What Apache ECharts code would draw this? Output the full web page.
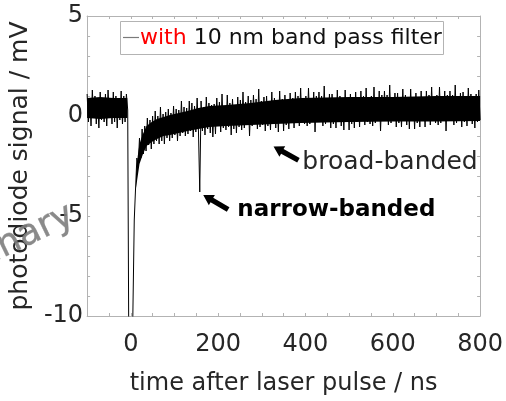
<!DOCTYPE html>
<html>
<head>
<meta charset="utf-8">
<script src="https://cdn.jsdelivr.net/npm/echarts@6/dist/echarts.min.js"></script>
<style>
html,body{margin:0;padding:0;background:#fff;}
#c{width:506px;height:401px;}
</style>
</head>
<body>
<div id="c"></div>
<script>
// ---- data: oscilloscope trace, sampled every 3 ns from -100 ns ----
const startTime = -100;
const sampleStep = 3;
const baseline = [1.1, -0.3, 0.9, -0.5, 1.3, -0.1, 1.0, -0.4, 0.8, -0.6,
  1.2, -0.2, 0.9, -0.3, 1.1, -0.5, 1.3, 0.0, 0.8, -0.4,
  1.2, -0.3, 1.0, -0.6, 0.9, -0.2, 1.25, -0.4, 1.0, -0.3,
  1.1, 0.3];
const laserPulse = [-14, -14, -14, -14];
const recovery = [-5.2, -3.6,
  -2.1, -2.5, -1.1, -2.1, -0.65, -1.9, -0.5, -1.75, -0.1, -1.45,
  -0.2, -1.65, 0.0, -1.4, 0.25, -1.25, 0.0, -1.4, 0.45, -1.25,
  0.1, -1.4, 0.2, -1.1, 0.35, -1.25, 0.15, -1.1, 0.5, -0.95,
  0.35, -1.25, 0.3, -1.0, 0.75, -0.85, 0.45, -1.0, 0.4, -0.9,
  0.75, -0.75, 0.65, -1.05, 0.5, -0.8, 0.9, -0.7];
const narrowSpike = [-3.8];
const tail = [
  0.75, -0.75, 0.45, -0.95, 0.95, -0.65, 0.65, -0.85, 0.55, -1.05,
  0.6, -0.9, 0.9, -0.5, 0.7, -0.8, 1.1, -0.6, 0.5, -0.7,
  1.05, -0.55, 0.65, -0.95, 0.85, -0.65, 0.55, -0.85, 0.95, -0.55,
  0.8, -0.7, 1.2, -0.6, 0.7, -0.4, 1.0, -1.0, 0.8, -0.5,
  1.05, -0.35, 0.85, -0.65, 1.35, -0.55, 0.75, -0.45, 0.95, -0.75,
  1.0, -0.5, 0.7, -0.7, 1.2, -0.4, 0.9, -0.6, 0.8, -0.8,
  1.25, -0.35, 0.85, -0.75, 1.05, -0.45, 0.75, -0.65, 1.15, -0.35,
  0.9, -0.6, 1.2, -0.2, 1.0, -0.5, 1.4, -0.3, 0.8, -0.4,
  1.0, -0.5, 1.4, -0.4, 0.9, -0.2, 1.2, -0.8, 1.0, -0.3,
  1.2, -0.2, 1.0, -0.5, 1.5, -0.4, 0.9, -0.3, 1.1, -0.6,
  1.1, -0.4, 0.8, -0.6, 1.3, -0.3, 1.0, -0.5, 0.9, -0.7,
  1.3, -0.3, 0.9, -0.7, 1.1, -0.4, 0.8, -0.6, 1.2, -0.3,
  0.9, -0.55, 1.25, -0.2, 1.0, -0.45, 1.4, -0.3, 0.85, -0.4,
  1.0, -0.5, 1.45, -0.35, 0.95, -0.15, 1.25, -0.75, 1.05, -0.25,
  1.25, -0.15, 1.05, -0.45, 1.55, -0.35, 0.95, -0.25, 1.15, -0.55,
  1.15, -0.35, 0.85, -0.55, 1.35, -0.25, 1.05, -0.45, 0.95, -0.65,
  1.35, -0.25, 0.95, -0.65, 1.15, -0.35, 0.85, -0.55, 1.25, -0.25,
  0.95, -0.55, 1.25, -0.15, 1.05, -0.45, 1.45, -0.25, 0.85, -0.35,
  1.05, -0.45, 1.45, -0.35, 0.95, -0.15, 1.25, -0.75, 1.05, -0.25,
  1.25, -0.15, 1.05, -0.45, 1.55, -0.35, 0.95, -0.25, 1.15, -0.55,
  1.2, -0.3, 0.9, -0.5, 1.4, -0.2, 1.1, -0.4, 1.0, -0.6,
  1.1, -0.3, 1.3, -0.2];

// dense core of the noise band (lower / upper edge)
const preCoreTime  = [-100, -70, -40, -8];
const preCoreLow   = [-0.1, -0.15, -0.1, -0.1];
const preCoreHigh  = [0.9, 0.95, 0.9, 0.9];
const postCoreTime = [12, 16, 20, 28, 36, 48, 60, 75, 90, 110, 130, 155, 180, 220, 275, 330, 390, 500, 600, 700, 800];
const postCoreLow  = [-3.6, -3.0, -2.4, -1.9, -1.5, -1.3, -1.15, -1.0, -0.95, -0.85, -0.75, -0.65, -0.55, -0.5, -0.45, -0.4, -0.35, -0.3, -0.28, -0.27, -0.25];
const postCoreHigh = [-2.9, -2.0, -1.4, -0.9, -0.5, -0.3, -0.15, -0.05, 0.05, 0.15, 0.25, 0.4, 0.5, 0.55, 0.65, 0.8, 0.9, 0.95, 0.95, 1.0, 1.0];

const xLabels = [0, 200, 400, 600, 800];
const yLabels = [-10, -5, 0, 5];

const signal = baseline.concat(laserPulse, recovery, narrowSpike, tail);
const trace = signal.map((v, i) => [startTime + i * sampleStep, v]);
const coreSegments = [
  {time: preCoreTime, low: preCoreLow, high: preCoreHigh},
  {time: postCoreTime, low: postCoreLow, high: postCoreHigh}
];

// annotation anchors in data coordinates
const broadArrow = {tip: [327, -1.53], tail: [384, -2.21]};
const broadLabel = {at: [393, -2.3], text: 'broad-banded'};
const narrowArrow = {tip: [166, -3.95], tail: [223, -4.68]};
const narrowLabel = {at: [244, -4.68], text: 'narrow-banded'};

const FONT = '"DejaVu Sans", "Noto Sans", sans-serif';
const AX = '#b3b3b3';
const TXT = '#262626';

const chart = echarts.init(document.getElementById('c'), null, {renderer: 'canvas'});

function axisCommon() {
  return {
    type: 'value',
    axisLine: {show: true, onZero: false, lineStyle: {color: AX, width: 1}},
    axisTick: {show: true, inside: true, length: 3, lineStyle: {color: AX}},
    splitLine: {show: false},
  };
}

const option = {
  animation: false,
  backgroundColor: '#fff',
  grid: {left: 85, top: 16, width: 396, height: 310, containLabel: false},
  xAxis: [
    Object.assign(axisCommon(), {
      min: -100, max: 800, interval: 50, position: 'bottom',
      axisLabel: {
        show: true, margin: 17, fontFamily: FONT, fontSize: 24, color: TXT,
        formatter: v => xLabels.indexOf(v) >= 0 ? String(v) : ''
      },
      name: 'time after laser pulse / ns', nameLocation: 'middle', nameGap: 56,
      nameTextStyle: {fontFamily: FONT, fontSize: 24, color: TXT}
    }),
    Object.assign(axisCommon(), {
      min: -100, max: 800, interval: 50, position: 'top',
      axisLabel: {show: false}
    })
  ],
  yAxis: [
    Object.assign(axisCommon(), {
      min: -10, max: 5, interval: 1, position: 'left',
      axisLabel: {
        show: true, margin: 4, fontFamily: FONT, fontSize: 24, color: TXT,
        padding: [0, 0, 10, 0],
        formatter: v => yLabels.indexOf(v) >= 0 ? String(v) : ''
      },
      name: 'photodiode signal / mV', nameLocation: 'middle', nameGap: 49,
      nameTextStyle: {fontFamily: FONT, fontSize: 25, color: TXT}
    }),
    Object.assign(axisCommon(), {
      min: -10, max: 5, interval: 1, position: 'right',
      axisLabel: {show: false}
    })
  ],
  series: [
    {
      type: 'custom',
      coordinateSystem: 'cartesian2d',
      xAxisIndex: 0, yAxisIndex: 0,
      data: coreSegments.map((s, i) => [s.time[0], s.low[0], i]),
      silent: true,
      z: 1,
      renderItem: function (params, api) {
        const seg = coreSegments[params.dataIndex];
        const top = seg.time.map((t, i) => api.coord([t, seg.high[i]]));
        const bottom = seg.time.map((t, i) => api.coord([t, seg.low[i]])).reverse();
        return {type: 'polygon', shape: {points: top.concat(bottom)}, style: {fill: '#000'}};
      }
    },
    {
      type: 'line',
      data: trace,
      showSymbol: false,
      symbol: 'none',
      sampling: null,
      clip: true,
      lineStyle: {color: '#000', width: 1},
      z: 2
    }
  ]
};
chart.setOption(option);

function arrowPolygon(tipD, tailD) {
  const p = chart.convertToPixel({gridIndex: 0}, tipD);
  const q = chart.convertToPixel({gridIndex: 0}, tailD);
  const dx = p[0] - q[0], dy = p[1] - q[1];
  const L = Math.sqrt(dx * dx + dy * dy);
  const ux = dx / L, uy = dy / L, nx = -uy, ny = ux;
  const headLen = 10, headHalf = 6, shaftHalf = 2.6;
  const bx = p[0] - ux * headLen, by = p[1] - uy * headLen;
  return [
    [p[0], p[1]],
    [bx + nx * headHalf, by + ny * headHalf],
    [bx + nx * shaftHalf, by + ny * shaftHalf],
    [q[0] + nx * shaftHalf, q[1] + ny * shaftHalf],
    [q[0] - nx * shaftHalf, q[1] - ny * shaftHalf],
    [bx - nx * shaftHalf, by - ny * shaftHalf],
    [bx - nx * headHalf, by - ny * headHalf]
  ];
}

const bl = chart.convertToPixel({gridIndex: 0}, broadLabel.at);
const nl = chart.convertToPixel({gridIndex: 0}, narrowLabel.at);

chart.setOption({
  graphic: [
    {type: 'rect', shape: {x: 120.5, y: 21.5, width: 323, height: 33},
      style: {fill: '#fff', stroke: '#b3b3b3', lineWidth: 1}, z: 10},
    {type: 'line', shape: {x1: 123, y1: 37.5, x2: 139, y2: 37.5},
      style: {stroke: '#7a7a7a', lineWidth: 1.2}, z: 11},
    {type: 'text', x: 140, y: 38, z: 11,
      style: {text: '{r|with} {k|10 nm band pass filter}', verticalAlign: 'middle', align: 'left',
        font: '22px ' + FONT,
        rich: {r: {fill: '#ff0000', font: '22px ' + FONT}, k: {fill: '#111', font: '22px ' + FONT}}}},
    {type: 'polygon', shape: {points: arrowPolygon(broadArrow.tip, broadArrow.tail)},
      style: {fill: '#000'}, z: 11},
    {type: 'polygon', shape: {points: arrowPolygon(narrowArrow.tip, narrowArrow.tail)},
      style: {fill: '#000'}, z: 11},
    {type: 'text', x: bl[0], y: bl[1], z: 11,
      style: {text: broadLabel.text, font: '25px ' + FONT, fill: TXT, verticalAlign: 'middle', align: 'left'}},
    {type: 'text', x: nl[0], y: nl[1], z: 11,
      style: {text: narrowLabel.text, font: 'bold 23px ' + FONT, fill: '#000', verticalAlign: 'middle', align: 'left'}},
    {type: 'text', x: 80, y: 230, rotation: 0.45, z: 20,
      style: {text: 'Preliminary', font: '36px ' + FONT, fill: 'rgba(125,125,125,0.9)',
        stroke: 'rgba(90,90,90,0.5)', lineWidth: 0.6, align: 'right', verticalAlign: 'bottom'}}
  ]
});
</script>
</body>
</html>
